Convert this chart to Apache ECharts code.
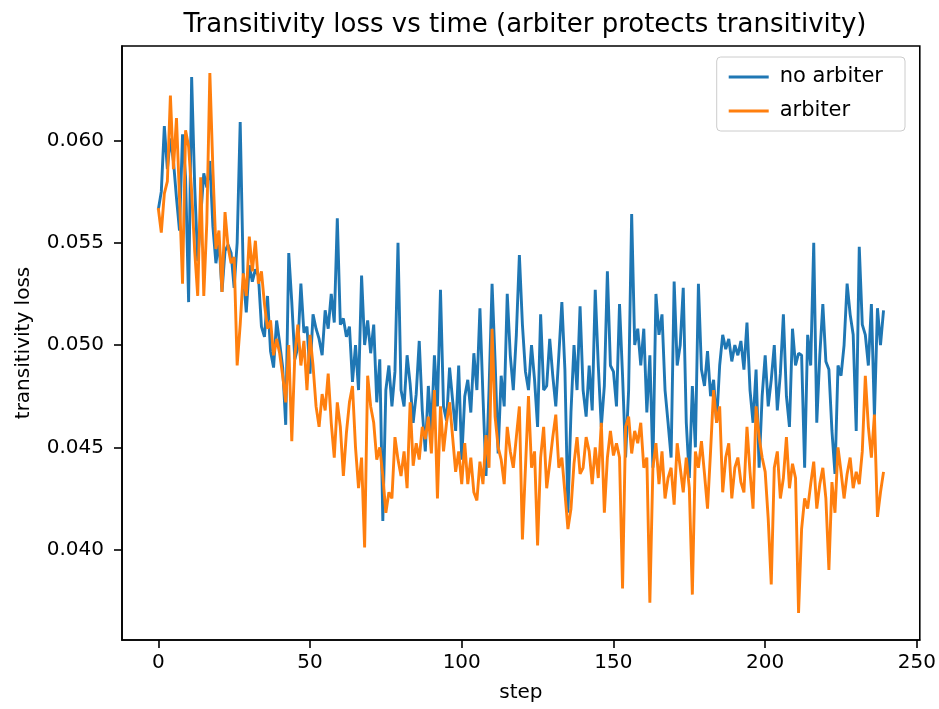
<!DOCTYPE html>
<html>
<head>
<meta charset="utf-8">
<script src="https://cdn.jsdelivr.net/npm/echarts@6/dist/echarts.min.js"></script>
<style>
  html, body { margin: 0; padding: 0; background: #fff; }
  #chart { width: 939px; height: 709px; }
</style>
</head>
<body>
<div id="chart"></div>
<script>
// Transitivity loss per training step, without and with the arbiter
const noArbiter = [
  0.0566, 0.0575, 0.0607, 0.0586, 0.0601, 0.0590, 0.0572, 0.0556, 0.0603, 0.0582,
  0.0521, 0.0631, 0.0578, 0.0541, 0.0563, 0.0584, 0.0577, 0.0590, 0.0558, 0.0540,
  0.0551, 0.0526, 0.0546, 0.0549, 0.0545, 0.0528, 0.0550, 0.0609, 0.0535, 0.0516,
  0.0539, 0.0531, 0.0537, 0.0534, 0.0509, 0.0504, 0.0524, 0.0497, 0.0489, 0.0512,
  0.0501, 0.0489, 0.0461, 0.0545, 0.0521, 0.0493, 0.0499, 0.0530, 0.0506, 0.0509,
  0.0486, 0.0515, 0.0508, 0.0503, 0.0495, 0.0517, 0.0508, 0.0525, 0.0511, 0.0562,
  0.0510, 0.0513, 0.0504, 0.0509, 0.0482, 0.0500, 0.0478, 0.0534, 0.0500, 0.0512,
  0.0496, 0.0510, 0.0472, 0.0493, 0.0414, 0.0478, 0.0490, 0.0470, 0.0487, 0.0550,
  0.0478, 0.0470, 0.0495, 0.0481, 0.0462, 0.0476, 0.0502, 0.0468, 0.0448, 0.0480,
  0.0458, 0.0495, 0.0470, 0.0527, 0.0470, 0.0463, 0.0489, 0.0473, 0.0458, 0.0490,
  0.0444, 0.0475, 0.0483, 0.0467, 0.0496, 0.0478, 0.0518, 0.0475, 0.0436, 0.0478,
  0.0530, 0.0492, 0.0447, 0.0485, 0.0470, 0.0525, 0.0495, 0.0478, 0.0505, 0.0544,
  0.0510, 0.0487, 0.0478, 0.0500, 0.0483, 0.0460, 0.0515, 0.0478, 0.0480, 0.0503,
  0.0485, 0.0470, 0.0495, 0.0521, 0.0488, 0.0418, 0.0467, 0.0500, 0.0478, 0.0519,
  0.0478, 0.0465, 0.0490, 0.0468, 0.0527, 0.0490, 0.0460, 0.0480, 0.0536, 0.0490,
  0.0487, 0.0470, 0.0520, 0.0485, 0.0445, 0.0478, 0.0564, 0.0500, 0.0508, 0.0490,
  0.0508, 0.0467, 0.0495, 0.0440, 0.0525, 0.0505, 0.0515, 0.0478, 0.0462, 0.0445,
  0.0531, 0.0490, 0.0500, 0.0528, 0.0462, 0.0435, 0.0480, 0.0450, 0.0530, 0.0488,
  0.0480, 0.0497, 0.0475, 0.0483, 0.0462, 0.0490, 0.0505, 0.0498, 0.0503, 0.0492,
  0.0500, 0.0495, 0.0502, 0.0488, 0.0511, 0.0478, 0.0462, 0.0488, 0.0440, 0.0475,
  0.0495, 0.0470, 0.0483, 0.0500, 0.0468, 0.0486, 0.0515, 0.0475, 0.0460, 0.0508,
  0.0490, 0.0496, 0.0495, 0.0440, 0.0505, 0.0490, 0.0550, 0.0462, 0.0495, 0.0520,
  0.0492, 0.0488, 0.0458, 0.0437, 0.0490, 0.0485, 0.0500, 0.0530, 0.0515, 0.0505,
  0.0458, 0.0548, 0.0510, 0.0505, 0.0490, 0.0520, 0.0465, 0.0518, 0.0500, 0.0517
];

const arbiter = [
  0.0567, 0.0555, 0.0574, 0.0580, 0.0622, 0.0586, 0.0611, 0.0572, 0.0530, 0.0605,
  0.0597, 0.0575, 0.0546, 0.0524, 0.0582, 0.0524, 0.0560, 0.0633, 0.0586, 0.0547,
  0.0556, 0.0526, 0.0565, 0.0548, 0.0540, 0.0543, 0.0490, 0.0510, 0.0535, 0.0524,
  0.0553, 0.0536, 0.0551, 0.0530, 0.0536, 0.0520, 0.0508, 0.0512, 0.0495, 0.0503,
  0.0496, 0.0485, 0.0472, 0.0500, 0.0453, 0.0495, 0.0510, 0.0490, 0.0502, 0.0478,
  0.0505, 0.0490, 0.0470, 0.0460, 0.0476, 0.0468, 0.0486, 0.0462, 0.0445, 0.0472,
  0.0460, 0.0436, 0.0457, 0.0472, 0.0480, 0.0450, 0.0430, 0.0445, 0.0401, 0.0485,
  0.0470, 0.0462, 0.0444, 0.0450, 0.0436, 0.0418, 0.0428, 0.0425, 0.0455, 0.0444,
  0.0436, 0.0448, 0.0430, 0.0472, 0.0441, 0.0452, 0.0444, 0.0460, 0.0454, 0.0465,
  0.0447, 0.0478, 0.0425, 0.0470, 0.0448, 0.0462, 0.0472, 0.0455, 0.0438, 0.0448,
  0.0432, 0.0452, 0.0432, 0.0445, 0.0428, 0.0424, 0.0443, 0.0432, 0.0456, 0.0440,
  0.0508, 0.0465, 0.0450, 0.0444, 0.0432, 0.0460, 0.0448, 0.0440, 0.0455, 0.0470,
  0.0405, 0.0440, 0.0475, 0.0440, 0.0448, 0.0402, 0.0445, 0.0460, 0.0430, 0.0442,
  0.0455, 0.0466, 0.0440, 0.0445, 0.0428, 0.0410, 0.0420, 0.0442, 0.0455, 0.0437,
  0.0440, 0.0455, 0.0448, 0.0432, 0.0450, 0.0435, 0.0462, 0.0418, 0.0445, 0.0458,
  0.0446, 0.0452, 0.0445, 0.0381, 0.0460, 0.0465, 0.0447, 0.0458, 0.0452, 0.0462,
  0.0440, 0.0445, 0.0374, 0.0440, 0.0452, 0.0432, 0.0448, 0.0425, 0.0435, 0.0440,
  0.0422, 0.0452, 0.0440, 0.0428, 0.0445, 0.0430, 0.0378, 0.0448, 0.0440, 0.0453,
  0.0437, 0.0420, 0.0448, 0.0478, 0.0462, 0.0470, 0.0428, 0.0445, 0.0452, 0.0425,
  0.0440, 0.0445, 0.0433, 0.0428, 0.0460, 0.0438, 0.0420, 0.0470, 0.0455, 0.0445,
  0.0438, 0.0415, 0.0383, 0.0440, 0.0448, 0.0425, 0.0435, 0.0455, 0.0430, 0.0442,
  0.0435, 0.0369, 0.0410, 0.0425, 0.0420, 0.0432, 0.0443, 0.0420, 0.0432, 0.0440,
  0.0425, 0.0390, 0.0433, 0.0418, 0.0450, 0.0438, 0.0425, 0.0437, 0.0445, 0.0430,
  0.0438, 0.0432, 0.0448, 0.0485, 0.0460, 0.0445, 0.0466, 0.0416, 0.0428, 0.0438
];

const xTicks = [0, 50, 100, 150, 200, 250];
const yTicks = [0.040, 0.045, 0.050, 0.055, 0.060];

const steps = noArbiter.map((_, i) => i);

const FONT = 'DejaVu Sans';
const BLUE = '#1f77b4';
const ORANGE = '#ff7f0e';

const chart = echarts.init(document.getElementById('chart'), null, { renderer: 'canvas' });

const axisText = { fontFamily: FONT, fontSize: 20, color: '#000' };

chart.setOption({
  animation: false,
  backgroundColor: '#fff',
  title: {
    text: 'Transitivity loss vs time (arbiter protects transitivity)',
    left: 520,
    top: 7,
    textAlign: 'center',
    textStyle: { fontFamily: FONT, fontSize: 26, fontWeight: 'normal', color: '#000' }
  },
  legend: {
    data: ['no arbiter', 'arbiter'],
    orient: 'vertical',
    right: 34,
    top: 57,
    icon: 'rect',
    itemWidth: 40,
    itemHeight: 3,
    itemGap: 10,
    padding: [8, 22, 8, 12],
    backgroundColor: 'rgba(255,255,255,0.8)',
    borderColor: '#cccccc',
    borderWidth: 1,
    borderRadius: 4,
    textStyle: { fontFamily: FONT, fontSize: 21, color: '#000', lineHeight: 24, padding: [0, 0, 0, 6] }
  },
  grid: {
    left: 122, right: 19, top: 46, bottom: 69,
    show: true, borderColor: '#000', borderWidth: 1.6, backgroundColor: 'transparent'
  },
  xAxis: {
    type: 'value',
    min: -11.95,
    max: 250.95,
    name: 'step',
    nameLocation: 'middle',
    nameGap: 43,
    nameTextStyle: axisText,
    axisLine: { show: true, onZero: false, lineStyle: { color: '#000', width: 1.6 } },
    axisTick: { show: true, length: 8, lineStyle: { color: '#000', width: 1.6 }, customValues: xTicks },
    axisLabel: { ...axisText, margin: 13, customValues: xTicks, formatter: v => String(v) },
    splitLine: { show: false }
  },
  yAxis: {
    type: 'value',
    min: 0.03558,
    max: 0.06462,
    name: 'transitivity loss',
    nameLocation: 'middle',
    nameGap: 88,
    nameRotate: 90,
    nameTextStyle: axisText,
    axisLine: { show: true, onZero: false, lineStyle: { color: '#000', width: 1.6 } },
    axisTick: { show: true, length: 8, lineStyle: { color: '#000', width: 1.6 }, customValues: yTicks },
    axisLabel: { ...axisText, margin: 18, customValues: yTicks, formatter: v => v.toFixed(3) },
    splitLine: { show: false }
  },
  series: [
    {
      name: 'no arbiter',
      type: 'line',
      data: steps.map((s, i) => [s, noArbiter[i]]),
      showSymbol: false,
      symbol: 'none',
      color: BLUE,
      lineStyle: { color: BLUE, width: 2.9 },
      z: 2
    },
    {
      name: 'arbiter',
      type: 'line',
      data: steps.map((s, i) => [s, arbiter[i]]),
      showSymbol: false,
      symbol: 'none',
      color: ORANGE,
      lineStyle: { color: ORANGE, width: 2.9 },
      z: 3
    }
  ]
});
</script>
</body>
</html>
